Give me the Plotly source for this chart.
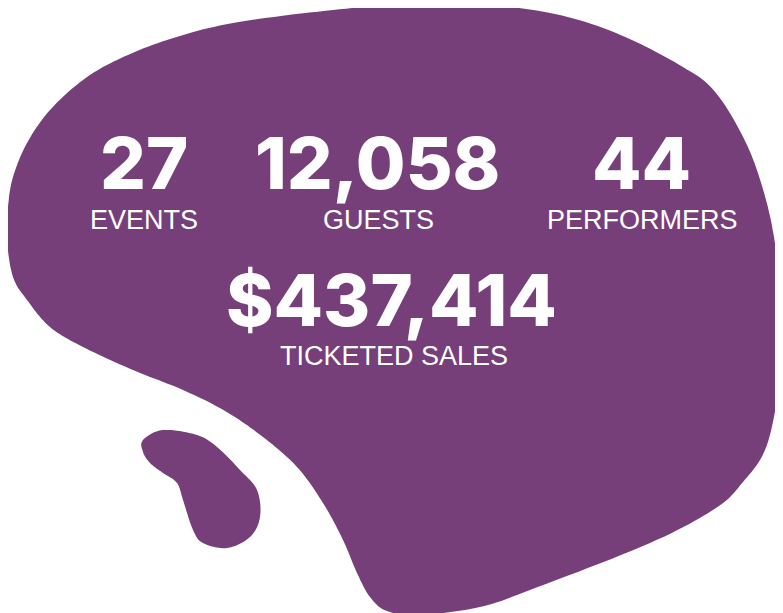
import plotly.graph_objects as go

# ---- data ----
stat_values = [27, 12058, 44, 437414]
stat_prefix = ["", "", "", "$"]
stat_labels = ["EVENTS", "GUESTS", "PERFORMERS", "TICKETED SALES"]

# ---- layout / style ----
W, H = 783, 613
OFF = 8  # page body margin of the html page; axes shifted so data px == screen px
PURPLE = "#763F79"
# (number x, number y, number size, label x, label y) in pixel space
pos = [(143.5, 162, 72, 144, 220), (377.5, 162, 72, 378.5, 220),
       (641.5, 162, 72, 642.5, 220), (391.5, 299, 72, 393.5, 356)]
NUM_FAMILY = "Inter"
LAB_FONT = dict(family="Liberation Sans", size=27, color="white", weight=400)

main_blob = [(7, 240), (8, 207), (13, 177), (27, 143), (50, 110), (83, 80), (117, 60), (167, 40),
             (233, 23), (333, 10), (400, 5), (466, 3), (550, 13), (616, 33), (683, 67), (716, 93),
             (747, 145), (766, 200), (776, 250), (781, 300), (782, 350), (777, 400), (765, 450),
             (743, 482), (716, 508), (650, 543), (530, 590), (480, 607), (420, 615), (387, 611),
             (370, 597), (357, 573), (343, 540), (323, 503), (297, 467), (263, 437), (225, 411),
             (183, 390), (133, 370), (83, 347), (50, 327), (27, 300), (13, 277)]
small_blob = [(143, 440), (163, 430), (197, 435), (217, 447), (240, 470), (257, 490), (260, 517),
              (250, 537), (227, 548), (203, 543), (193, 530), (183, 500), (177, 483), (163, 473),
              (150, 463), (143, 452)]


def smooth_path(pts, steps=12):
    n = len(pts)
    out = []
    for i in range(n):
        p0, p1, p2, p3 = pts[(i - 1) % n], pts[i], pts[(i + 1) % n], pts[(i + 2) % n]
        for s in range(steps):
            t = s / steps
            t2, t3 = t * t, t * t * t
            xy = []
            for k in range(2):
                xy.append(0.5 * ((2 * p1[k]) + (-p0[k] + p2[k]) * t +
                                 (2 * p0[k] - 5 * p1[k] + 4 * p2[k] - p3[k]) * t2 +
                                 (-p0[k] + 3 * p1[k] - 3 * p2[k] + p3[k]) * t3))
            out.append(xy)
    d = "M " + " L ".join(f"{x:.1f},{y:.1f}" for x, y in out) + " Z"
    return d


fig = go.Figure()
fig.add_trace(go.Scatter(x=[OFF, W + OFF], y=[OFF, H + OFF], mode="markers", marker=dict(opacity=0),
                         hoverinfo="skip", showlegend=False))

for pts in (main_blob, small_blob):
    fig.add_shape(type="path", path=smooth_path(pts), xref="x", yref="y",
                  fillcolor=PURPLE, line=dict(width=0), layer="below")

for v, pre, lab, (nx, ny, ns, lx, ly) in zip(stat_values, stat_prefix, stat_labels, pos):
    fig.add_annotation(x=nx, y=ny, xref="x", yref="y", text=f"{pre}{v:,}", showarrow=False,
                       font=dict(family=NUM_FAMILY, size=ns, color="white", weight=800),
                       xanchor="center", yanchor="middle")
    fig.add_annotation(x=lx, y=ly, xref="x", yref="y", text=lab, showarrow=False,
                       font=LAB_FONT, xanchor="center", yanchor="middle")

fig.update_layout(width=W, height=H, margin=dict(l=0, r=0, t=0, b=0),
                  paper_bgcolor="white", plot_bgcolor="white",
                  xaxis=dict(range=[OFF, W + OFF], visible=False, fixedrange=True),
                  yaxis=dict(range=[H + OFF, OFF], visible=False, fixedrange=True),
                  showlegend=False)
fig.write_html("out.html")
